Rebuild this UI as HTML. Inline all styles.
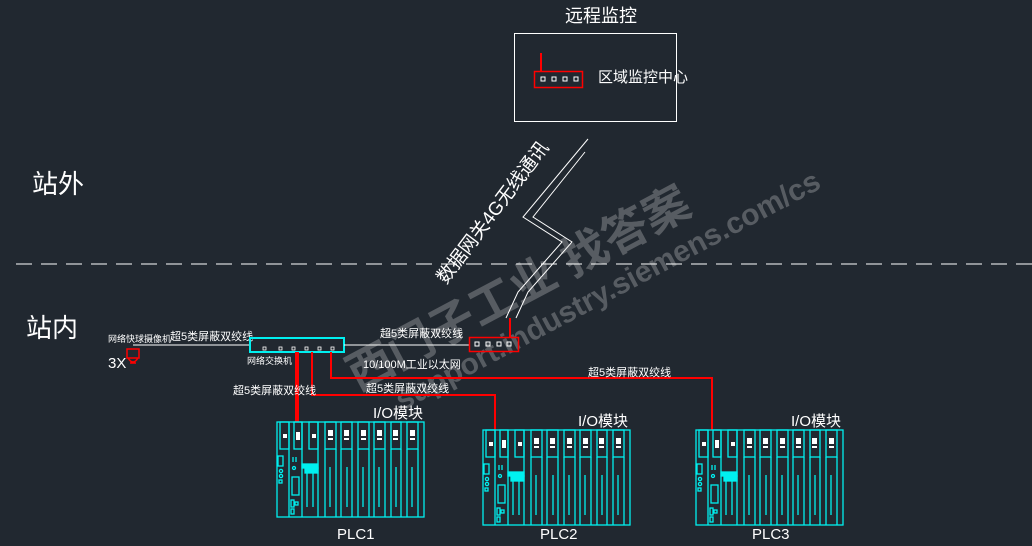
<!DOCTYPE html>
<html><head><meta charset="utf-8"><style>
html,body{margin:0;padding:0;background:#212830;}
svg{display:block}
text{font-family:"Liberation Sans","Noto Sans CJK SC",sans-serif;fill:#fff}
</style></head><body>
<svg width="1032" height="546" viewBox="0 0 1032 546" xmlns="http://www.w3.org/2000/svg">
<defs>
<g id="rack" fill="none" stroke="#00f0f0" stroke-width="1.3">
<rect x="0" y="0" width="147" height="95"/>
<line x1="12" y1="0" x2="12" y2="95"/>
<line x1="25" y1="0" x2="25" y2="95"/>
<line x1="41" y1="0" x2="41" y2="95"/>
<rect x="3" y="0" width="9" height="27"/>
<rect x="17" y="0" width="8" height="27"/>
<rect x="32" y="0" width="9" height="27"/>
<rect x="48" y="0" width="11" height="27"/><line x1="48" y1="27" x2="48" y2="95"/><line x1="59" y1="27" x2="59" y2="95"/>
<rect x="64" y="0" width="11" height="27"/><line x1="64" y1="27" x2="64" y2="95"/><line x1="75" y1="27" x2="75" y2="95"/>
<rect x="81" y="0" width="11" height="27"/><line x1="81" y1="27" x2="81" y2="95"/><line x1="92" y1="27" x2="92" y2="95"/>
<rect x="97" y="0" width="11" height="27"/><line x1="97" y1="27" x2="97" y2="95"/><line x1="108" y1="27" x2="108" y2="95"/>
<rect x="114" y="0" width="10" height="27"/><line x1="114" y1="27" x2="114" y2="95"/><line x1="124" y1="27" x2="124" y2="95"/>
<rect x="130" y="0" width="11" height="27"/><line x1="130" y1="27" x2="130" y2="95"/><line x1="141" y1="27" x2="141" y2="95"/>
<line x1="30" y1="45" x2="30" y2="85"/><line x1="36" y1="45" x2="36" y2="85"/>
<line x1="53" y1="45" x2="53" y2="85"/><line x1="70" y1="45" x2="70" y2="85"/><line x1="86" y1="45" x2="86" y2="85"/><line x1="102" y1="45" x2="102" y2="85"/><line x1="119" y1="45" x2="119" y2="85"/><line x1="135" y1="45" x2="135" y2="85"/>
<rect x="1" y="34" width="5" height="10"/><circle cx="4" cy="49" r="1.6"/><circle cx="4" cy="54" r="1.6"/><rect x="2" y="58" width="3" height="3"/>
<rect x="15" y="55" width="7" height="18"/><rect x="14" y="78" width="3" height="7"/><rect x="18" y="80" width="3" height="3"/><rect x="14" y="87" width="3" height="5"/>
<line x1="16" y1="35" x2="16" y2="40"/><line x1="19" y1="35" x2="19" y2="40"/><circle cx="17" cy="46" r="1.5"/>
<rect x="25" y="42" width="16" height="4" fill="#00f0f0"/><rect x="28" y="46" width="13" height="5" fill="#00f0f0"/>
<g fill="#fff" stroke="none">
<rect x="6" y="12" width="4" height="4"/><rect x="19" y="10" width="4" height="8"/><rect x="35" y="12" width="4" height="4"/>
<rect x="51" y="8" width="5" height="6"/><rect x="51" y="16" width="5" height="2"/>
<rect x="67" y="8" width="5" height="6"/><rect x="67" y="16" width="5" height="2"/>
<rect x="84" y="8" width="5" height="6"/><rect x="84" y="16" width="5" height="2"/>
<rect x="100" y="8" width="5" height="6"/><rect x="100" y="16" width="5" height="2"/>
<rect x="116" y="8" width="5" height="6"/><rect x="116" y="16" width="5" height="2"/>
<rect x="133" y="8" width="5" height="6"/><rect x="133" y="16" width="5" height="2"/>
</g>
</g>
</defs>

<!-- watermark -->
<g transform="rotate(-28 520 260)">
<text x="315" y="300" font-size="46" font-weight="bold" style="fill:#575c62">西门子工业 找答案</text>
<text x="345" y="338" font-size="30" font-weight="bold" style="fill:#575c62">support.industry.siemens.com/cs</text>
</g>

<!-- remote monitoring -->
<text x="565" y="22" font-size="18">远程监控</text>
<rect x="514.5" y="33.5" width="162" height="88" fill="none" stroke="#fff" stroke-width="1"/>
<line x1="541" y1="53" x2="541" y2="72" stroke="#f00" stroke-width="2"/>
<rect x="534.5" y="71.5" width="48" height="16" fill="none" stroke="#f00" stroke-width="1.5"/>
<g fill="none" stroke="#fff"><rect x="541" y="77" width="4" height="4"/><rect x="552" y="77" width="4" height="4"/><rect x="563" y="77" width="4" height="4"/><rect x="574" y="77" width="4" height="4"/></g>
<text x="598" y="82" font-size="15">区域监控中心</text>

<!-- lightning -->
<polyline points="588,139 523,217 562,242 518,292 506,318" fill="none" stroke="#fff" stroke-width="1"/>
<polyline points="585,152 533,217 572,242 528,292 516,318" fill="none" stroke="#fff" stroke-width="1"/>
<text transform="translate(446,285) rotate(-53)" font-size="19" textLength="172" lengthAdjust="spacingAndGlyphs">数据网关4G无线通讯</text>

<text x="32" y="193" font-size="26">站外</text>
<text x="26" y="337" font-size="26">站内</text>
<line x1="16" y1="264" x2="1032" y2="264" stroke="#fff" stroke-width="1" stroke-dasharray="16,9"/>

<!-- camera -->
<text x="108" y="342" font-size="9">网络快球摄像机</text>
<text x="108" y="368" font-size="15">3X</text>
<path d="M127,349 h12 v9 h-12 z M128,358 q5,8 10,0 M130,363 h6" fill="none" stroke="#f00" stroke-width="1.5"/>
<line x1="133" y1="345" x2="249" y2="345" stroke="#fff" stroke-width="1"/>
<text x="170" y="340" font-size="11">超5类屏蔽双绞线</text>

<!-- switch -->
<rect x="250" y="338" width="94" height="14" fill="none" stroke="#00f0f0" stroke-width="2"/>
<g fill="none" stroke="#fff" stroke-width="0.8"><rect x="263" y="347" width="3" height="3"/><rect x="279" y="347" width="3" height="3"/><rect x="292" y="347" width="3" height="3"/><rect x="305" y="347" width="3" height="3"/><rect x="318" y="347" width="3" height="3"/><rect x="331" y="347" width="3" height="3"/></g>
<text x="247" y="364" font-size="9">网络交换机</text>
<line x1="344" y1="345" x2="469" y2="345" stroke="#fff" stroke-width="1"/>
<text x="380" y="337" font-size="11">超5类屏蔽双绞线</text>
<text x="363" y="368" font-size="11">10/100M工业以太网</text>

<!-- gateway -->
<line x1="510" y1="318" x2="510" y2="337" stroke="#f00" stroke-width="2"/>
<rect x="469.5" y="337.5" width="49" height="14" fill="none" stroke="#f00" stroke-width="1.5"/>
<g fill="none" stroke="#fff"><rect x="475" y="342" width="4" height="4"/><rect x="486" y="342" width="4" height="4"/><rect x="497" y="342" width="4" height="4"/><rect x="507" y="342" width="4" height="4"/></g>

<!-- red links -->
<line x1="297" y1="352" x2="297" y2="422" stroke="#f00" stroke-width="4"/>
<polyline points="312,352 312,395 495,395 495,430" fill="none" stroke="#f00" stroke-width="2"/>
<polyline points="331,352 331,378 712,378 712,430" fill="none" stroke="#f00" stroke-width="2"/>
<text x="233" y="394" font-size="11">超5类屏蔽双绞线</text>
<text x="366" y="392" font-size="11">超5类屏蔽双绞线</text>
<text x="588" y="376" font-size="11">超5类屏蔽双绞线</text>

<!-- racks -->
<use href="#rack" x="277" y="422"/>
<use href="#rack" x="483" y="430"/>
<use href="#rack" x="696" y="430"/>
<text x="373" y="418" font-size="15">I/O模块</text>
<text x="578" y="426" font-size="15">I/O模块</text>
<text x="791" y="426" font-size="15">I/O模块</text>
<text x="337" y="539" font-size="15">PLC1</text>
<text x="540" y="539" font-size="15">PLC2</text>
<text x="752" y="539" font-size="15">PLC3</text>
</svg>
</body></html>
